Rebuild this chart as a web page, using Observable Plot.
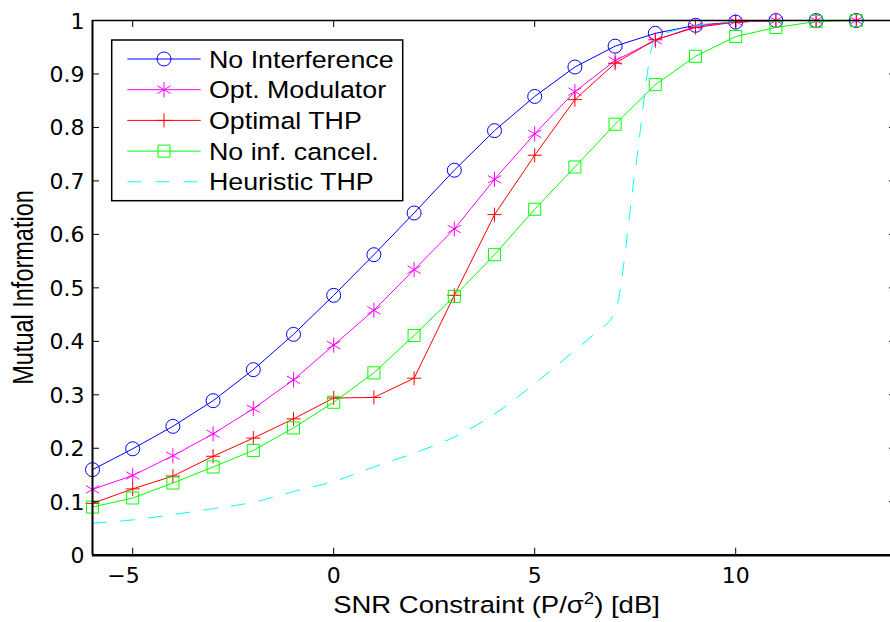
<!DOCTYPE html>
<html><head><meta charset="utf-8">
<script src="https://cdn.jsdelivr.net/npm/d3@7"></script>
<script src="https://cdn.jsdelivr.net/npm/@observablehq/plot@0.6"></script>
<style>html,body{margin:0;padding:0;background:#fff;overflow:hidden}</style>
</head><body><div id="chart"></div>
<script>
// ---- data ----
const snr = [-6,-5,-4,-3,-2,-1,0,1,2,3,4,5,6,7,8,9,10,11,12,13];
const noInterference = [0.160,0.199,0.241,0.289,0.347,0.413,0.486,0.562,0.640,0.720,0.794,0.858,0.913,0.952,0.976,0.991,0.997,1.0,1.0,1.0];
const optModulator   = [0.123,0.149,0.186,0.227,0.274,0.328,0.393,0.458,0.534,0.610,0.703,0.788,0.867,0.925,0.963,0.989,0.998,1.0,1.0,1.0];
const optimalTHP     = [0.097,0.124,0.148,0.185,0.219,0.255,0.294,0.295,0.331,0.486,0.637,0.748,0.852,0.920,0.964,0.987,0.997,1.0,1.0,1.0];
const noInfCancel    = [0.090,0.107,0.135,0.165,0.196,0.238,0.286,0.341,0.411,0.484,0.562,0.647,0.726,0.806,0.880,0.933,0.970,0.987,0.998,1.0];
const heurSnr        = [-6,-5,-4,-3,-2,-1,0,1,2,3,4,5,6,6.5,7,7.5,8,9,10,11,12,13];
const heuristicTHP   = [0.060,0.066,0.076,0.087,0.099,0.119,0.138,0.165,0.191,0.221,0.264,0.321,0.383,0.415,0.455,0.720,0.966,0.990,0.998,1.0,1.0,1.0];

const seriesNames   = ["No Interference","Opt. Modulator","Optimal THP","No inf. cancel.","Heuristic THP"];
const seriesColors  = ["#0000ff","#ff00ff","#ff0000","#00ff00","#00ffff"];
const seriesSymbols = ["circle","asterisk","plus","square",null];

const xTicks = [-5,0,5,10];
const xTickLabels = ["\u22125","0","5","10"];
const yTicks = [0,0.1,0.2,0.3,0.4,0.5,0.6,0.7,0.8,0.9,1];
const yTickLabels = ["0","0.1","0.2","0.3","0.4","0.5","0.6","0.7","0.8","0.9","1"];
const xDomain = [-6,14];
const yDomain = [0,1];
const xLabel = "SNR Constraint (P/\u03c3";
const yLabel = "Mutual Information";

// ---- build ----
const markerSeries = [noInterference, optModulator, optimalTHP, noInfCancel];
const W = 890, H = 622;
const L = 92, R = 896, T = 20, B = 554.7;
const dash = "14,14";
const symMap = {circle: d3.symbolCircle, asterisk: d3.symbolAsterisk, plus: d3.symbolPlus, square: d3.symbolSquare};
const symR = {circle: 7, asterisk: 7.2, plus: 4.6, square: 6.8};

const marks = [];
markerSeries.forEach((ys, k) => {
  const data = snr.map((x, i) => ({x, y: ys[i]}));
  marks.push(Plot.line(data, {x: "x", y: "y", stroke: seriesColors[k], strokeWidth: 1}));
  marks.push(Plot.dot(data, {x: "x", y: "y", stroke: seriesColors[k], fill: "none", strokeWidth: 1,
    symbol: seriesSymbols[k], r: symR[seriesSymbols[k]]}));
});
const heurData = heurSnr.map((x, i) => ({x, y: heuristicTHP[i]}));
marks.push(Plot.line(heurData, {x: "x", y: "y", stroke: seriesColors[4], strokeWidth: 1,
  strokeDasharray: dash, curve: "monotone-x"}));

// box
marks.push(Plot.ruleY([yDomain[1]], {x1: xDomain[0], x2: xDomain[1], stroke: "black", strokeWidth: 1.3}));
marks.push(Plot.ruleY([yDomain[0]], {x1: xDomain[0], x2: xDomain[1], stroke: "black", strokeWidth: 2.4}));
marks.push(Plot.ruleX([xDomain[0]], {y1: yDomain[0], y2: yDomain[1], stroke: "black", strokeWidth: 2}));
marks.push(Plot.ruleX([xDomain[1]], {y1: yDomain[0], y2: yDomain[1], stroke: "black", strokeWidth: 1.3}));
// inward ticks
marks.push(Plot.ruleX(xTicks, {x: d => d, y1: yDomain[0], y2: yDomain[0], insetBottom: 7, stroke: "black", strokeWidth: 1}));
marks.push(Plot.ruleX(xTicks, {x: d => d, y1: yDomain[1], y2: yDomain[1], insetBottom: -7, stroke: "black", strokeWidth: 1}));
marks.push(Plot.ruleY(yTicks, {y: d => d, x1: xDomain[0], x2: xDomain[0], insetRight: -7, stroke: "black", strokeWidth: 1}));
marks.push(Plot.ruleY(yTicks, {y: d => d, x1: xDomain[1], x2: xDomain[1], insetRight: 7, stroke: "black", strokeWidth: 1}));
// tick labels
const xNeg = xTicks.map((t, i) => ({t, s: xTickLabels[i]})).filter(d => d.t < 0);
const xPos = xTicks.map((t, i) => ({t, s: xTickLabels[i]})).filter(d => d.t >= 0);
marks.push(Plot.text(xPos, {x: "t", y: () => yDomain[0], text: "s", dy: 21, fontSize: 22, fontFamily: "DejaVu Sans", fill: "black"}));
marks.push(Plot.text(xNeg, {x: "t", y: () => yDomain[0], text: "s", dy: 21, dx: 7, textAnchor: "end", fontSize: 22, fontFamily: "DejaVu Sans", fill: "black"}));
marks.push(Plot.text(yTicks, {x: () => xDomain[0], y: d => d, text: (d, i) => yTickLabels[i], dx: -8, dy: 1, textAnchor: "end", fontSize: 22, fontFamily: "DejaVu Sans", fill: "black"}));

const plot = Plot.plot({
  width: W, height: H,
  marginLeft: L, marginRight: 0, marginTop: T, marginBottom: H - B,
  x: {domain: xDomain, range: [L, R], axis: null},
  y: {domain: yDomain, range: [B, T], axis: null},
  style: {background: "white"},
  marks
});
document.getElementById("chart").appendChild(plot);

// ---- legend & axis labels ----
const svg = d3.select(plot);
const lg = svg.append("g").attr("text-anchor", "start");
lg.append("rect").attr("x", 111.7).attr("y", 40).attr("width", 291).attr("height", 160.7)
  .attr("fill", "white").attr("stroke", "black").attr("stroke-width", 1.5);
seriesNames.forEach((name, i) => {
  const yy = 59 + i * 30.7;
  lg.append("line").attr("x1", 127.3).attr("x2", 200.7).attr("y1", yy).attr("y2", yy)
    .attr("stroke", seriesColors[i]).attr("stroke-width", 1)
    .attr("stroke-dasharray", seriesSymbols[i] ? null : dash);
  const s = seriesSymbols[i];
  if (s) {
    lg.append("path").attr("d", d3.symbol(symMap[s], Math.PI * symR[s] * symR[s])())
      .attr("transform", `translate(164,${yy})`).attr("fill", "none").attr("stroke", seriesColors[i]).attr("stroke-width", 1);
  }
  lg.append("text").attr("transform", `translate(209,${yy + 8.5}) scale(1.14,1)`)
    .attr("text-anchor", "start")
    .attr("font-family", "Liberation Sans, Arial, sans-serif").attr("font-size", 23.5).attr("fill", "black").text(name);
});
const xl = svg.append("text").attr("transform", "translate(496.5,613) scale(1.17,1)")
  .attr("text-anchor", "middle").attr("font-family", "Liberation Sans, Arial, sans-serif").attr("font-size", 23.5).attr("fill", "black");
xl.append("tspan").text(xLabel);
xl.append("tspan").attr("font-size", 16).attr("dy", -9).text("2");
xl.append("tspan").attr("dy", 9).text(") [dB]");
svg.append("text").attr("transform", "translate(33,287.5) rotate(-90) scale(1,1.23)")
  .attr("text-anchor", "middle").attr("font-family", "Liberation Sans, Arial, sans-serif").attr("font-size", 23.5).attr("fill", "black").text(yLabel);
</script>
</body></html>
